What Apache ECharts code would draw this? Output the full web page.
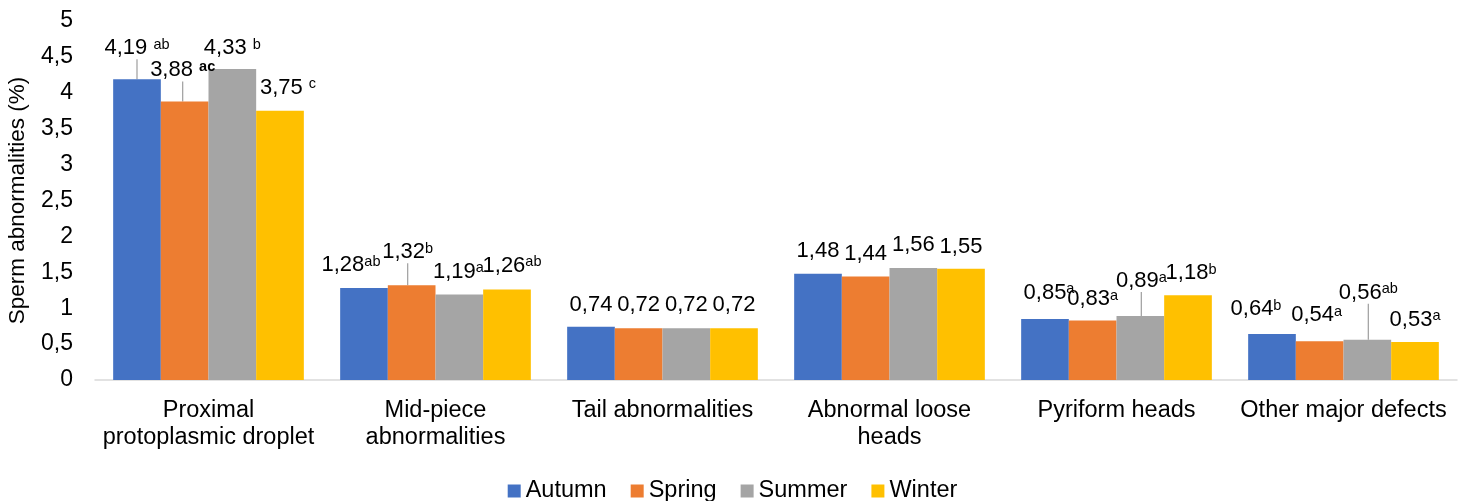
<!DOCTYPE html>
<html>
<head>
<meta charset="utf-8">
<title>Sperm abnormalities by season</title>
<script src="https://cdn.jsdelivr.net/npm/echarts@6/dist/echarts.min.js"></script>
<style>
  html, body { margin: 0; padding: 0; background: #ffffff; }
  #chart { width: 1465px; height: 501px; }
</style>
</head>
<body>
<div id="chart"></div>
<script>
// Categories of sperm abnormality (x axis)
const categories = [
  'Proximal\nprotoplasmic droplet',
  'Mid-piece\nabnormalities',
  'Tail abnormalities',
  'Abnormal loose\nheads',
  'Pyriform heads',
  'Other major defects'
];

// Seasons (one bar series each)
const seasons = ['Autumn', 'Spring', 'Summer', 'Winter'];

// Mean percentage of each abnormality per season
const autumn = [4.19, 1.28, 0.74, 1.48, 0.85, 0.64];
const spring = [3.88, 1.32, 0.72, 1.44, 0.83, 0.54];
const summer = [4.33, 1.19, 0.72, 1.56, 0.89, 0.56];
const winter = [3.75, 1.26, 0.72, 1.55, 1.18, 0.53];

// Significance letters shown next to each value
const autumnLetters = ['ab', 'ab', '', '', 'a', 'b'];
const springLetters = ['ac', 'b', '', '', 'a', 'a'];
const summerLetters = ['b', 'a', '', '', 'a', 'ab'];
const winterLetters = ['c', 'ab', '', '', 'b', 'a'];

// Y axis ticks
const yMin = 0, yMax = 5, yStep = 0.5;

const seriesValues = [autumn, spring, summer, winter];
const seriesLetters = [autumnLetters, springLetters, summerLetters, winterLetters];
const colors = ['#4472c4', '#ed7d31', '#a5a5a5', '#ffc000'];

// Label nudges [dx, dy] in pixels, per season and category
const labelShift = [
  [[0, -8], [-13, 0], [0, 1], [0, 0], [4, -3], [-16, -2]],
  [[-2, -8], [-4, -10], [0, 0], [0, 0], [0, 2], [-3, -3]],
  [[0, 2], [-1, 0], [0, 0], [0, 0], [1, -12], [1, -24]],
  [[8, 0], [5, -1], [0, 0], [0, 1], [3, 1], [0, 1]]
];
// Labels joined to their bar by a guide line
const guided = [
  [true, false, false, false, false, false],
  [true, true, false, false, false, false],
  [false, false, false, false, true, true],
  [false, false, false, false, false, false]
];

const FONT = 'Liberation Sans, Arial, sans-serif';
const fmt = v => String(v).replace('.', ',');

const series = seasons.map((name, s) => ({
  name: name,
  type: 'bar',
  barGap: '0%',
  barCategoryGap: '16%',
  itemStyle: { color: colors[s] },
  data: seriesValues[s].map((v, c) => ({
    value: v,
    labelLine: guided[s][c]
      ? { show: true, lineStyle: { color: '#a5a5a5', width: 1.3 } }
      : { show: false }
  })),
  label: {
    show: true,
    position: 'top',
    distance: 12,
    formatter: p => {
      const c = p.dataIndex;
      const letters = seriesLetters[s][c];
      if (!letters) return '{v|' + fmt(p.value) + '}';
      const gap = c === 0 ? ' ' : '';
      const sup = (s === 1 && c === 0) ? 'sb' : 's';
      return '{v|' + fmt(p.value) + gap + '}{' + sup + '|' + letters + '}';
    },
    rich: {
      v: { fontFamily: FONT, fontSize: 22, lineHeight: 22, color: '#000' },
      s: { fontFamily: FONT, fontSize: 14.5, lineHeight: 14, verticalAlign: 'top', color: '#000' },
      sb: { fontFamily: FONT, fontSize: 14.5, lineHeight: 14, verticalAlign: 'top', fontWeight: 'bold', color: '#000' }
    }
  },
  labelLayout: p => ({
    dx: labelShift[s][p.dataIndex][0],
    dy: labelShift[s][p.dataIndex][1]
  })
}));

const chart = echarts.init(document.getElementById('chart'), null, { renderer: 'canvas' });
chart.setOption({
  animation: false,
  textStyle: { fontFamily: FONT },
  grid: { left: 95, right: 8, top: 21, bottom: 121, containLabel: false, outerBoundsMode: 'none' },
  legend: {
    data: seasons,
    top: 474,
    left: 'center',
    icon: 'rect',
    itemWidth: 13,
    itemHeight: 13,
    itemGap: 24,
    textStyle: { fontFamily: FONT, fontSize: 23.5, color: '#000' }
  },
  xAxis: {
    type: 'category',
    data: categories,
    axisLine: { lineStyle: { color: '#d9d9d9', width: 1.5 } },
    axisTick: { show: false },
    axisLabel: {
      interval: 0,
      margin: 17,
      fontFamily: FONT,
      fontSize: 23.5,
      lineHeight: 27,
      color: '#000'
    }
  },
  yAxis: {
    type: 'value',
    min: yMin,
    max: yMax,
    interval: yStep,
    name: 'Sperm abnormalities (%)',
    nameLocation: 'middle',
    nameGap: 66,
    nameTextStyle: { fontFamily: FONT, fontSize: 22.5, color: '#000' },
    axisLine: { show: false },
    axisTick: { show: false },
    splitLine: { show: false },
    axisLabel: {
      margin: 22,
      fontFamily: FONT,
      fontSize: 23,
      color: '#000',
      formatter: v => fmt(v)
    }
  },
  series: series
});
</script>
</body>
</html>
